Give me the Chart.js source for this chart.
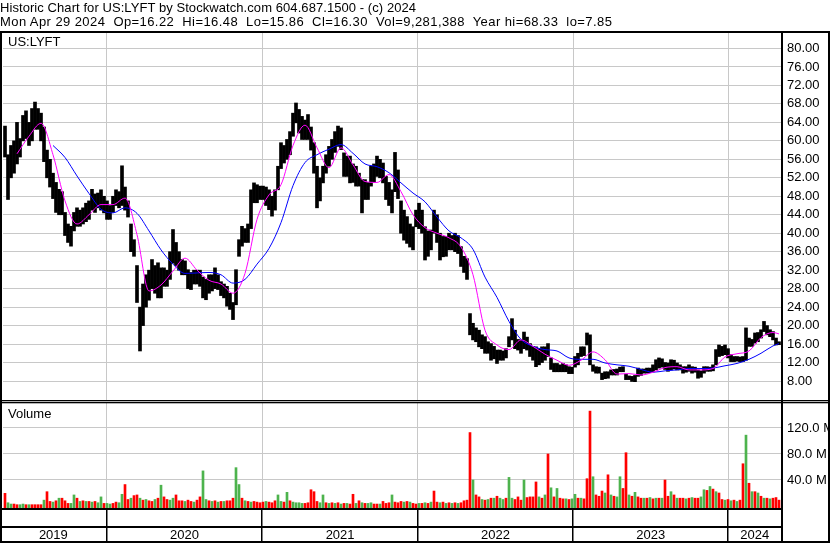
<!DOCTYPE html>
<html>
<head>
<meta charset="utf-8">
<script src="https://cdn.jsdelivr.net/npm/chart.js@4.4.1/dist/chart.umd.min.js"></script>
<style>
  body { margin: 0; background: #fff; }
  #wrap { position: relative; width: 830px; height: 543px; overflow: hidden; font-family: 'Liberation Sans', Arial, sans-serif; }
  #price { position: absolute; left: 0; top: 0; }
  #volume { position: absolute; left: 0; top: 400px; }
  #head { position: absolute; left: 0; top: 1px; font-size: 13px; line-height: 14px; white-space: pre; color: #000; }
  #head .l1 { letter-spacing: 0.07px; }
  #head .l2 { letter-spacing: 0.42px; }
</style>
</head>
<body>
<div id="wrap">
  <canvas id="price" width="830" height="400"></canvas>
  <canvas id="volume" width="830" height="143"></canvas>
  <div id="head"><div class="l1"></div><div class="l2"></div></div>
</div>
<script>
// Texts
const TITLE = 'Historic Chart for US:LYFT by Stockwatch.com 604.687.1500 - (c) 2024';
const QUOTE = 'Mon Apr 29 2024  Op=16.22  Hi=16.48  Lo=15.86  Cl=16.30  Vol=9,281,388  Year hi=68.33  lo=7.85';
const SYMBOL = 'US:LYFT';

// Weekly bars, 2019-05-07 .. 2024-04-29
const firstBar = Date.UTC(2019, 4, 7);
const lastBar = Date.UTC(2024, 3, 29);
const years = [2019, 2020, 2021, 2022, 2023, 2024];

const barHigh = [
    63.2, 57, 59, 60, 64, 60.5, 65.5, 66.5, 64, 67,
    68.4, 67, 66, 63, 58, 56, 53, 51, 49.5, 49,
    44.5, 42, 41.5, 44.5, 45.5, 45, 45.5, 46.5, 47, 49.5,
    48.5, 48.7, 49.4, 48, 47, 46, 48, 49.4, 49, 54.6,
    50, 47, 42, 38.6, 33, 24, 29, 31, 32, 34.3,
    33, 33.6, 32.5, 32.5, 32, 36, 40.8, 38, 36, 34.3,
    34, 32.1, 31.5, 32, 32, 32, 30.5, 30, 31, 31,
    32.5, 31, 29.5, 29, 28.5, 27, 25, 32.1, 38.6, 41.5,
    41, 42, 49.4, 50.9, 50.5, 50.2, 50.2, 50, 49.4, 48,
    49.4, 54.5, 59.6, 59, 60.3, 62, 66, 68.2, 66.8, 65.3,
    64.5, 65.7, 63, 59.6, 54.5, 52, 54.5, 57, 58.8, 60.3,
    62, 63.2, 62.8, 57.4, 56.7, 56.7, 55, 54.5, 53, 51.6,
    51.6, 51, 54.5, 55, 56.7, 56, 55.2, 52.3, 51, 49.4,
    57.5, 53.7, 47, 45, 43.6, 42, 41.4, 45, 46.5, 45,
    41.4, 40.5, 40.7, 45, 44, 40, 39.3, 39.3, 40, 39.5,
    40, 39.5, 37.1, 35, 34.5, 22.6, 20.5, 19.5, 19, 18,
    17.6, 16.5, 16.1, 15.5, 14.7, 14.7, 14.5, 15, 17.6, 21.5,
    19, 17, 16.9, 18.6, 17.5, 16.1, 15.5, 15.4, 15, 15.4,
    15.4, 16.1, 13, 11.8, 11.8, 11.5, 11.8, 11.5, 11.1, 11,
    13.3, 14, 15.4, 15.4, 18.4, 18, 11.5, 11.1, 11, 9.7,
    10, 10, 10.4, 10.5, 10.6, 11, 11.1, 9.5, 9.1, 9,
    9.2, 10.8, 10.6, 10.6, 10.8, 10.8, 11.5, 12.6, 13, 12.8,
    12, 11.9, 12.6, 12.5, 11.9, 11.5, 11.1, 11.1, 11.5, 11.1,
    11, 10.4, 10.2, 11.1, 11.1, 11, 11.5, 14.8, 15.8, 15.5,
    15.8, 15, 13.7, 13.3, 13.3, 13.2, 13.3, 19.5, 17.3, 17,
    18.4, 18.5, 19.1, 20.9, 20, 19.1, 18.7, 17.3, 16.5
];

const barLow = [
    56.5, 47.3, 52, 53, 55, 56.5, 60, 60.5, 59, 60,
    62.5, 62.5, 60, 55.5, 52, 50, 47.5, 44.5, 44, 44,
    39.5, 38, 37.2, 40.5, 41.5, 41.5, 42, 42.5, 43, 45,
    44.5, 45.5, 45, 44.4, 43, 43, 44.5, 46, 45.5, 46,
    45, 43.5, 36, 35, 25, 14.5, 20, 24, 25.5, 28,
    27, 26, 26, 28.5, 28.5, 30, 33.5, 33, 32, 31,
    31, 28, 27.8, 29, 29, 28.5, 26, 25.6, 27, 27.5,
    28, 27.8, 26.5, 26, 24.2, 23.5, 21.3, 24.5, 35, 37.2,
    38, 38, 41, 46.6, 46.6, 47.3, 47.3, 46, 45.1, 43.7,
    45, 49.4, 54, 55.2, 56, 57, 61, 63.9, 61.7, 60.3,
    60.3, 60.3, 58, 53, 45.5, 47, 50.9, 53, 54.5, 56,
    57.5, 58.8, 58.1, 52.3, 52.3, 50.9, 51, 50.2, 50.2, 44.4,
    47.3, 47.3, 50.2, 51, 52.3, 52, 50.9, 47.3, 46, 44.4,
    49, 47.5, 40, 38.5, 37.8, 37, 36.4, 41.4, 41, 40,
    34.2, 35, 36.4, 40, 38, 34.2, 34.9, 35, 36.4, 36.4,
    36, 35.6, 32.8, 31.5, 30, 18, 16.9, 16.5, 15.4, 15,
    14, 14, 12.5, 12.8, 11.8, 12.5, 12.5, 13, 15.4, 16.9,
    15, 14.7, 14, 15, 14.7, 13.3, 12.5, 11.1, 11.5, 12,
    12.5, 13.3, 10.5, 10, 10, 10, 10, 10, 9.6, 9.6,
    11, 11.5, 13.3, 13.5, 15.8, 11.5, 10.1, 9.7, 9.7, 8.3,
    8.5, 8.6, 9.3, 9.3, 9.3, 10, 10, 8.3, 8.3, 7.9,
    7.85, 9, 9.2, 9.7, 9.7, 9.8, 10, 10.4, 10.8, 11,
    10.5, 10.1, 10.4, 10.6, 10.4, 10.4, 9.7, 9.9, 10.1, 9.7,
    9.9, 8.6, 8.8, 9.7, 10.1, 10.1, 10.2, 11.5, 13.3, 13.5,
    13.7, 13, 12.2, 12.2, 12.3, 12.2, 12.2, 12.5, 15.5, 15.5,
    16.2, 16.5, 17.3, 18.7, 18, 17.6, 16.9, 15.8, 15.86
];

// volume in millions, r = down, g = up
const volume = [
    19.5, 5, 3, 3, 2, 2, 3, 2, 2, 2,
    2, 2, 2, 9, 22, 7, 6, 8, 12, 12,
    8, 4, 4, 17, 12, 7, 8, 7, 7, 6,
    7, 5, 14, 4, 4, 3, 4, 6, 5, 18,
    33, 10, 12, 16, 17, 12, 9, 10, 8, 7,
    10, 12, 32, 14, 10, 9, 12, 17, 8, 8,
    7, 9, 7, 6, 9, 14, 54, 10, 8, 7,
    8, 6, 7, 7, 8, 8, 12, 59, 33, 12,
    8, 7, 6, 7, 6, 5, 6, 7, 6, 5,
    8, 17, 7, 6, 21, 8, 6, 5, 5, 4,
    4, 5, 25, 22, 7, 5, 17, 5, 4, 5,
    4, 5, 3, 4, 4, 3, 18, 4, 8, 5,
    4, 4, 5, 3, 3, 3, 7, 4, 5, 17,
    6, 5, 7, 6, 7, 6, 4, 3, 4, 4,
    5, 4, 6, 23, 6, 5, 6, 4, 5, 4,
    5, 4, 5, 8, 9, 113, 40, 17, 14, 10,
    9, 10, 12, 12, 15, 12, 10, 12, 44, 12,
    10, 14, 9, 40, 13, 14, 14, 37, 14, 12,
    17, 80, 28, 14, 27, 12, 11, 11, 10, 11,
    18, 12, 12, 11, 42, 146, 45, 17, 15, 23,
    20, 48, 17, 15, 14, 45, 27, 82, 17, 15,
    21, 14, 12, 12, 12, 13, 11, 12, 12, 12,
    40, 15, 22, 17, 12, 12, 12, 11, 12, 13,
    12, 12, 14, 25, 24, 30, 26, 22, 20, 10,
    9, 10, 8, 9, 7, 9, 65, 109, 35, 22,
    22, 20, 15, 12, 12, 11, 12, 13, 9
];

const volumeDir = [
    'rggrrggrgr', 'rrrgrrgrgr', 'rrggrgrgrg', 'rggrggrrgg', 'rrgrrgrgrr',
    'grgrrggrrr', 'grrgrrggrg', 'rgrgrrrggr', 'grgrrrrgrr', 'rggrgrgggg',
    'rrrrrggrgr', 'grgrgrrgrg', 'rggrrgrrrg', 'rrrgrgrrgr', 'grgrrgrgrg',
    'rgrrrrgrrg', 'rgrgrggrgg', 'rrrgrrrrgr', 'grgrgrrgrg', 'grgrrrgrrr',
    'grgrggrrgr', 'grrgrgrgrg', 'rrgrgrrgrg', 'rrggrgrgrr', 'grgrgrrgrg',
    'rgrgrgrrr'
].join('').split('');

// moving averages, one value every 4 bars (last one on the final bar)
const maFast = [
    null, 57.2, 61, 63.8, 57, 47, 42, 44, 46.2, 46.2,
    47.6, 39.7, 27.5, 28.8, 31.8, 34.6, 32, 29.8, 29, 27,
    31.3, 43, 48.3, 50.5, 59, 63.4, 58.5, 54.2, 58.5, 54.8,
    51.2, 51, 52.7, 49, 44, 41.2, 40, 39, 37, 31,
    19, 15.8, 14.8, 16.9, 15.5, 13.8, 12.5, 11.4, 12.5, 14.3,
    12.6, 9.5, 9.6, 9.3, 9.9, 10.9, 11.1, 10.4, 10.4, 10.7,
    13.2, 13.9, 14.5, 17.4, 18.5, 18.2
];
const maSlow = [
    null, null, null, null, 59, 56.4, 52.4, 48.6, 45.2, 44.4,
    45.5, 44.3, 40.5, 36.4, 33.3, 31.3, 31.4, 31.5, 31, 29.2,
    30, 33.3, 36.7, 42.3, 50.3, 55.3, 57, 58.2, 59.2, 57.3,
    55, 54.4, 53.1, 50.9, 48.7, 46.8, 43.5, 40.5, 39, 36.5,
    30.5, 26.1, 20.9, 17, 15.5, 14.8, 14.5, 13, 12.7, 12.7,
    11.9, 11.5, 11.2, 10.5, 9.9, 10.2, 10.4, 10.7, 10.7, 10.8,
    11.3, 11.8, 12.7, 14, 15.6, 16.1
];

const priceTicks = [8, 12, 16, 20, 24, 28, 32, 36, 40, 44, 48, 52, 56, 60, 64, 68, 72, 76, 80];
const volumeTicks = [40, 80, 120];

// ---- derived positions ----
const lastIdx = barHigh.length - 1;
const dayStep = (lastBar - firstBar) / lastIdx;
const X_MIN = -2 / 3;
const X_MAX = lastIdx + 2 / 3;
const yearPos = y => (Date.UTC(y, 0, 1) - firstBar) / dayStep;
const yearLines = years.slice(1).map(yearPos);
// label sits in the middle of its year cell (first cell starts at the frame)
const yearLabels = years.map(y => ({
    value: (Math.max(yearPos(y), X_MIN - 1) + Math.min(yearPos(y + 1), X_MAX)) / 2,
    year: String(y)
}));

const GRID = '#c8c8c8';
const RED = '#ff0000';
const GREEN = '#4db34d';
const FONT = "'Liberation Sans', Arial, sans-serif";

Chart.defaults.font.family = FONT;
Chart.defaults.font.size = 13;
Chart.defaults.color = '#000';

document.querySelector('#head .l1').textContent = TITLE;
document.querySelector('#head .l2').textContent = QUOTE;

const maPoints = arr => arr
    .map((v, k) => ({ x: Math.min(k * 4, lastIdx), y: v }))
    .filter(p => p.y !== null);

const baseOptions = {
    responsive: false,
    animation: false,
    events: [],
    plugins: { legend: { display: false }, tooltip: { enabled: false } }
};

const priceFrame = {
    id: 'priceFrame',
    afterDraw: (chart) => {
        const ctx = chart.ctx;
        ctx.save();
        ctx.fillStyle = '#000';
        ctx.fillRect(0, 31, 830, 2);
        ctx.fillRect(0, 31, 2, 369);
        ctx.fillRect(781, 31, 2, 369);
        ctx.fillRect(828, 31, 2, 369);
        ctx.font = '13px ' + FONT;
        ctx.textBaseline = 'alphabetic';
        ctx.fillText(SYMBOL, 8, 46);
        ctx.restore();
    }
};

const volumeFrame = {
    id: 'volumeFrame',
    afterDraw: (chart) => {
        const ctx = chart.ctx;
        const x = chart.scales.x;
        ctx.save();
        ctx.fillStyle = '#000';
        ctx.fillRect(0, 0, 830, 1.3);
        ctx.fillRect(0, 2, 830, 1.3);
        ctx.fillRect(0, 0, 2, 143);
        ctx.fillRect(781, 0, 2, 143);
        ctx.fillRect(828, 0, 2, 143);
        ctx.fillRect(0, 108, 783, 2);
        ctx.fillRect(0, 126, 783, 2);
        ctx.fillRect(0, 141, 830, 2);
        yearLines.forEach(v => {
            const px = Math.round(x.getPixelForValue(v));
            ctx.fillRect(px - 1, 108, 1.5, 35);
        });
        ctx.font = '13px ' + FONT;
        ctx.fillText('Volume', 8, 17.7);
        ctx.restore();
    }
};

new Chart(document.getElementById('price'), {
    type: 'bar',
    data: {
        datasets: [
            { type: 'line', data: maPoints(maFast), borderColor: '#ff00ff', borderWidth: 1, pointRadius: 0, cubicInterpolationMode: 'monotone', order: 1 },
            { type: 'line', data: maPoints(maSlow), borderColor: '#0000ff', borderWidth: 1, pointRadius: 0, cubicInterpolationMode: 'monotone', order: 2 },
            { type: 'bar', data: barHigh.map((h, i) => ({ x: i, y: [barLow[i], h] })), backgroundColor: '#000', barThickness: 3, order: 3 }
        ]
    },
    options: {
        ...baseOptions,
        layout: { padding: { top: 33, left: 3, right: 0, bottom: 0 } },
        scales: {
            x: {
                type: 'linear', min: X_MIN, max: X_MAX, offset: false,
                afterBuildTicks: s => { s.ticks = yearLines.map(v => ({ value: v })); },
                afterFit: s => { s.height = 0; s.paddingLeft = 0; s.paddingRight = 0; },
                ticks: { display: false },
                grid: { color: GRID, drawTicks: false, offset: false },
                border: { display: false }
            },
            y: {
                position: 'right', min: 3.886, max: 83.356,
                afterBuildTicks: s => { s.ticks = priceTicks.map(v => ({ value: v })); },
                afterFit: s => { s.width = 49; s.paddingTop = 0; s.paddingBottom = 0; },
                ticks: { padding: 6, callback: v => Number(v).toFixed(2) },
                grid: { color: GRID, drawTicks: false },
                border: { display: false }
            }
        }
    },
    plugins: [priceFrame]
});

const xTicks = yearLines.map(v => ({ value: v, year: '' })).concat(yearLabels);

new Chart(document.getElementById('volume'), {
    type: 'bar',
    data: {
        datasets: [{
            data: volume.map((v, i) => ({ x: i, y: v })),
            backgroundColor: volumeDir.map(d => d === 'g' ? GREEN : RED),
            barThickness: 2,
            base: -3.08
        }]
    },
    options: {
        ...baseOptions,
        layout: { padding: { top: 3, left: 3, right: 0, bottom: 0 } },
        scales: {
            x: {
                type: 'linear', min: X_MIN, max: X_MAX, offset: false,
                afterBuildTicks: s => { s.ticks = xTicks.map(t => ({ value: t.value, year: t.year })); },
                afterFit: s => { s.height = 35; s.paddingLeft = 0; s.paddingRight = 0; },
                ticks: { autoSkip: false, maxRotation: 0, padding: 20, callback: (v, i, t) => t[i].year },
                grid: {
                    color: c => (c.tick && c.tick.year === '') ? GRID : 'rgba(0,0,0,0)',
                    drawTicks: false, offset: false
                },
                border: { display: false }
            },
            y: {
                position: 'right', min: -3.08, max: 158.46,
                afterBuildTicks: s => { s.ticks = volumeTicks.map(v => ({ value: v })); },
                afterFit: s => { s.width = 49; s.paddingTop = 0; s.paddingBottom = 0; },
                ticks: { padding: 6, callback: v => Number(v).toFixed(1) + ' M' },
                grid: { color: GRID, drawTicks: false },
                border: { display: false }
            }
        }
    },
    plugins: [volumeFrame]
});
</script>
</body>
</html>
